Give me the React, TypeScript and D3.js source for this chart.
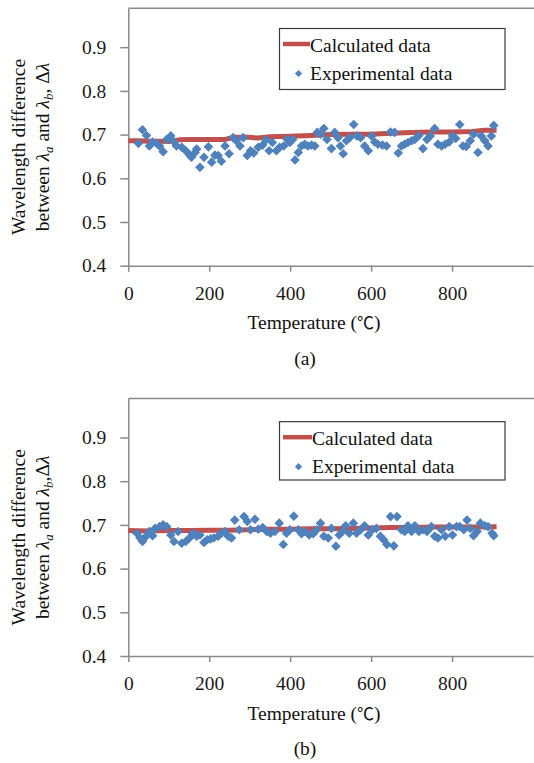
import { useEffect, useRef } from "react";
import * as d3 from "d3";

const WIDTH = 534;
const HEIGHT = 763;
const FONT = "Liberation Serif, Tinos, DejaVu Serif, serif";
const RED = "#c0504d";
const BLUE = "#4f81bd";
const AXIS = "#8a8a8a";
const FS = 19.5;

// tick labels
const xTicks = [0, 200, 400, 600, 800];
const yTicks = [0.4, 0.5, 0.6, 0.7, 0.8, 0.9];
const xDomain: [number, number] = [0, 1000];
const yDomain: [number, number] = [0.4, 0.989];

// (a) experimental
const expTempA = [
    25, 35, 45, 52, 60, 70, 77, 86, 95, 105, 113, 119, 132, 142, 151, 156, 165, 169, 177, 187,
    198, 206, 214, 222, 230, 239, 249, 259, 267, 276, 284, 294, 302, 310, 321, 332, 340, 348, 356, 366,
    374, 384, 393, 399, 406, 412, 420, 428, 436, 444, 453, 461, 467, 475, 483, 491, 502, 510, 518, 524,
    531, 539, 547, 557, 565, 574, 584, 593, 601, 609, 617, 628, 638, 648, 658, 667, 675, 683, 691, 700,
    708, 718, 728, 738, 746, 757, 765, 774, 783, 793, 801, 809, 819, 827, 835, 845, 853, 864, 872, 881,
    889, 897, 903,
];
const expDeltaA = [
    0.68, 0.711, 0.698, 0.674, 0.683, 0.68, 0.674, 0.661, 0.689, 0.697, 0.683, 0.674, 0.671, 0.663, 0.654, 0.648, 0.659, 0.667, 0.625, 0.648,
    0.672, 0.637, 0.653, 0.652, 0.639, 0.674, 0.656, 0.693, 0.686, 0.674, 0.693, 0.652, 0.663, 0.658, 0.671, 0.676, 0.688, 0.663, 0.682, 0.663,
    0.671, 0.674, 0.689, 0.682, 0.689, 0.642, 0.659, 0.674, 0.678, 0.674, 0.676, 0.674, 0.705, 0.701, 0.714, 0.689, 0.668, 0.705, 0.693, 0.674,
    0.656, 0.686, 0.693, 0.723, 0.697, 0.693, 0.674, 0.663, 0.697, 0.683, 0.678, 0.676, 0.674, 0.706, 0.705, 0.658, 0.674, 0.678, 0.682, 0.686,
    0.689, 0.698, 0.668, 0.689, 0.697, 0.714, 0.678, 0.674, 0.678, 0.683, 0.697, 0.691, 0.723, 0.674, 0.673, 0.686, 0.701, 0.659, 0.697, 0.686,
    0.674, 0.697, 0.721,
];
// (a) calculated
const calcTempA = [0, 25, 50, 75, 100, 125, 150, 200, 240, 260, 300, 320, 350, 400, 450, 500, 550, 600, 650, 700, 750, 800, 850, 880, 910];
const calcA = [
    0.686, 0.686, 0.685, 0.685, 0.684, 0.688, 0.689, 0.689, 0.689, 0.694, 0.694, 0.692, 0.695, 0.696, 0.698, 0.7,
    0.701, 0.701, 0.703, 0.705, 0.706, 0.706, 0.707, 0.71, 0.71,
];

// (b) experimental
const expTempB = [
    21, 29, 35, 44, 52, 60, 66, 77, 86, 95, 105, 113, 123, 132, 142, 151, 159, 169, 177, 187,
    195, 203, 211, 222, 230, 239, 247, 255, 263, 274, 286, 294, 302, 313, 321, 332, 342, 351, 362, 373,
    383, 391, 399, 409, 420, 428, 436, 447, 457, 465, 475, 483, 494, 502, 513, 521, 529, 537, 546, 556,
    564, 574, 584, 593, 603, 613, 623, 631, 639, 648, 656, 664, 675, 683, 691, 700, 708, 718, 728, 738,
    749, 757, 765, 774, 783, 793, 801, 811, 819, 829, 837, 845, 853, 862, 870, 881, 889, 899, 903,
];
const expDeltaB = [
    0.681, 0.67, 0.662, 0.674, 0.685, 0.675, 0.692, 0.696, 0.7, 0.696, 0.677, 0.662, 0.685, 0.658, 0.662, 0.67, 0.681, 0.674, 0.677, 0.66,
    0.666, 0.668, 0.67, 0.674, 0.681, 0.685, 0.674, 0.67, 0.711, 0.689, 0.719, 0.708, 0.689, 0.713, 0.69, 0.694, 0.685, 0.681, 0.685, 0.704,
    0.655, 0.681, 0.689, 0.72, 0.689, 0.68, 0.685, 0.677, 0.68, 0.689, 0.704, 0.674, 0.67, 0.692, 0.651, 0.677, 0.685, 0.698, 0.681, 0.704,
    0.681, 0.689, 0.698, 0.677, 0.689, 0.692, 0.674, 0.666, 0.655, 0.719, 0.652, 0.719, 0.689, 0.685, 0.698, 0.685, 0.698, 0.685, 0.689, 0.685,
    0.696, 0.674, 0.67, 0.689, 0.674, 0.696, 0.677, 0.696, 0.696, 0.689, 0.711, 0.692, 0.675, 0.685, 0.704, 0.698, 0.696, 0.681, 0.675,
];
// (b) calculated
const calcTempB = [0, 50, 100, 150, 200, 250, 300, 350, 400, 450, 500, 550, 600, 650, 700, 750, 800, 850, 910];
const calcB = [
    0.687, 0.686, 0.687, 0.687, 0.688, 0.688, 0.689, 0.69, 0.69, 0.691, 0.691, 0.692, 0.693, 0.694, 0.694, 0.695,
    0.695, 0.695, 0.696,
];

type Panel = {
    off: number;
    tag: string;
    commaSpace: boolean;
    expT: number[];
    expV: number[];
    calcT: number[];
    calcV: number[];
    legend: { x: number; y: number; w: number; h: number; textX: number };
};

const panels: Panel[] = [
    {
        off: 0,
        tag: "(a)",
        commaSpace: true,
        expT: expTempA,
        expV: expDeltaA,
        calcT: calcTempA,
        calcV: calcA,
        legend: { x: 279.5, y: 28.5, w: 225.5, h: 61, textX: 310 },
    },
    {
        off: 390.3,
        tag: "(b)",
        commaSpace: false,
        expT: expTempB,
        expV: expDeltaB,
        calcT: calcTempB,
        calcV: calcB,
        legend: { x: 279.5, y: 421.7, w: 225.5, h: 58.3, textX: 312 },
    },
];

const diamond = (r: number) => `M0,${-r}L${r},0L0,${r}L${-r},0Z`;

function drawPanel(svg: d3.Selection<SVGSVGElement, unknown, null, undefined>, p: Panel) {
    const left = 128.3;
    const top = 8.3 + p.off;
    const bottom = 265.7 + p.off;

    const x = d3.scaleLinear().domain(xDomain).range([left, 533]);
    const y = d3.scaleLinear().domain(yDomain).range([bottom, top]);

    const g = svg.append("g").attr("font-family", FONT);

    // top frame
    g.append("line")
        .attr("x1", left)
        .attr("x2", WIDTH)
        .attr("y1", top)
        .attr("y2", top)
        .attr("stroke", AXIS)
        .attr("stroke-width", 1.5);

    const yAxis = g
        .append("g")
        .attr("transform", `translate(${left},0)`)
        .call(
            d3
                .axisLeft(y)
                .tickValues(yTicks)
                .tickSize(8)
                .tickSizeOuter(0)
                .tickPadding(14)
                .tickFormat(d3.format(".1f"))
        );

    const xAxis = g
        .append("g")
        .attr("transform", `translate(0,${bottom})`)
        .call(
            d3
                .axisBottom(x)
                .tickValues(xTicks)
                .tickSize(6)
                .tickSizeOuter(0)
                .tickPadding(14)
                .tickFormat(d3.format("d"))
        );

    [yAxis, xAxis].forEach((a) => {
        a.attr("font-family", FONT).attr("font-size", FS);
        a.select(".domain").attr("stroke", AXIS).attr("stroke-width", 1.5);
        a.selectAll(".tick line").attr("stroke", AXIS).attr("stroke-width", 1.5);
        a.selectAll(".tick text").attr("fill", "#1a1a1a").attr("font-family", FONT);
    });

    // calculated line
    const pts = p.calcT.map((t, i) => [t, p.calcV[i]] as [number, number]);
    g.append("path")
        .datum(pts)
        .attr("fill", "none")
        .attr("stroke", RED)
        .attr("stroke-width", 5)
        .attr("stroke-linejoin", "round")
        .attr(
            "d",
            d3
                .line<[number, number]>()
                .x((d) => x(d[0]))
                .y((d) => y(d[1]))
        );

    // experimental diamonds
    g.append("g")
        .selectAll("path")
        .data(p.expT.map((t, i) => [t, p.expV[i]]))
        .join("path")
        .attr("transform", (d) => `translate(${x(d[0])},${y(d[1])})`)
        .attr("d", diamond(4.8))
        .attr("fill", BLUE);

    // legend
    const L = p.legend;
    g.append("rect")
        .attr("x", L.x)
        .attr("y", L.y)
        .attr("width", L.w)
        .attr("height", L.h)
        .attr("fill", "white")
        .attr("stroke", "#3a3a3a")
        .attr("stroke-width", 1.2);
    g.append("line")
        .attr("x1", 283)
        .attr("x2", L.textX)
        .attr("y1", L.y + 15.5)
        .attr("y2", L.y + 15.5)
        .attr("stroke", RED)
        .attr("stroke-width", 4.5);
    g.append("text")
        .attr("x", L.textX)
        .attr("y", L.y + 23)
        .attr("font-size", FS)
        .attr("fill", "#111")
        .text("Calculated data");
    g.append("path")
        .attr("transform", `translate(${L.x + 19},${L.y + 45})`)
        .attr("d", diamond(3.6))
        .attr("fill", BLUE);
    g.append("text")
        .attr("x", L.textX)
        .attr("y", L.y + 51.5)
        .attr("font-size", FS)
        .attr("fill", "#111")
        .text("Experimental data");

    // x title
    const xt = g
        .append("text")
        .attr("x", 314)
        .attr("y", bottom + 63.5)
        .attr("text-anchor", "middle")
        .attr("font-size", FS)
        .attr("fill", "#111");
    xt.append("tspan").text("Temperature (");
    xt.append("tspan").attr("font-family", "Noto Sans CJK SC").attr("font-size", 17).text("℃");
    xt.append("tspan").text(")");

    // panel tag
    g.append("text")
        .attr("x", 305)
        .attr("y", bottom + 99)
        .attr("text-anchor", "middle")
        .attr("font-size", FS)
        .attr("fill", "#111")
        .text(p.tag);

    // y title
    const midY = 147 + p.off;
    g.append("text")
        .attr("transform", `translate(25,${midY}) rotate(-90)`)
        .attr("text-anchor", "middle")
        .attr("font-size", FS)
        .attr("fill", "#111")
        .text("Wavelength difference");

    const t2 = g
        .append("text")
        .attr("transform", `translate(48.5,${midY}) rotate(-90)`)
        .attr("text-anchor", "middle")
        .attr("font-size", FS)
        .attr("fill", "#111");
    t2.append("tspan").text("between ");
    t2.append("tspan").attr("font-style", "italic").text("λ");
    t2.append("tspan").attr("font-style", "italic").attr("font-size", 13).attr("dy", 4).text("a");
    t2.append("tspan").attr("dy", -4).text(" and ");
    t2.append("tspan").attr("font-style", "italic").text("λ");
    t2.append("tspan").attr("font-style", "italic").attr("font-size", 13).attr("dy", 4).text("b");
    t2.append("tspan").attr("dy", -4).text(p.commaSpace ? ", " : ",");
    t2.append("tspan").text("Δ");
    t2.append("tspan").attr("font-style", "italic").text("λ");
}

export default function App() {
    const svgRef = useRef<SVGSVGElement>(null);

    useEffect(() => {
        const svg = d3.select(svgRef.current as SVGSVGElement);
        svg.selectAll("*").remove();
        panels.forEach((p) => drawPanel(svg, p));
    }, []);

    return (
        <svg
            ref={svgRef}
            width={WIDTH}
            height={HEIGHT}
            style={{ position: "absolute", left: 0, top: 0, background: "white" }}
        />
    );
}
